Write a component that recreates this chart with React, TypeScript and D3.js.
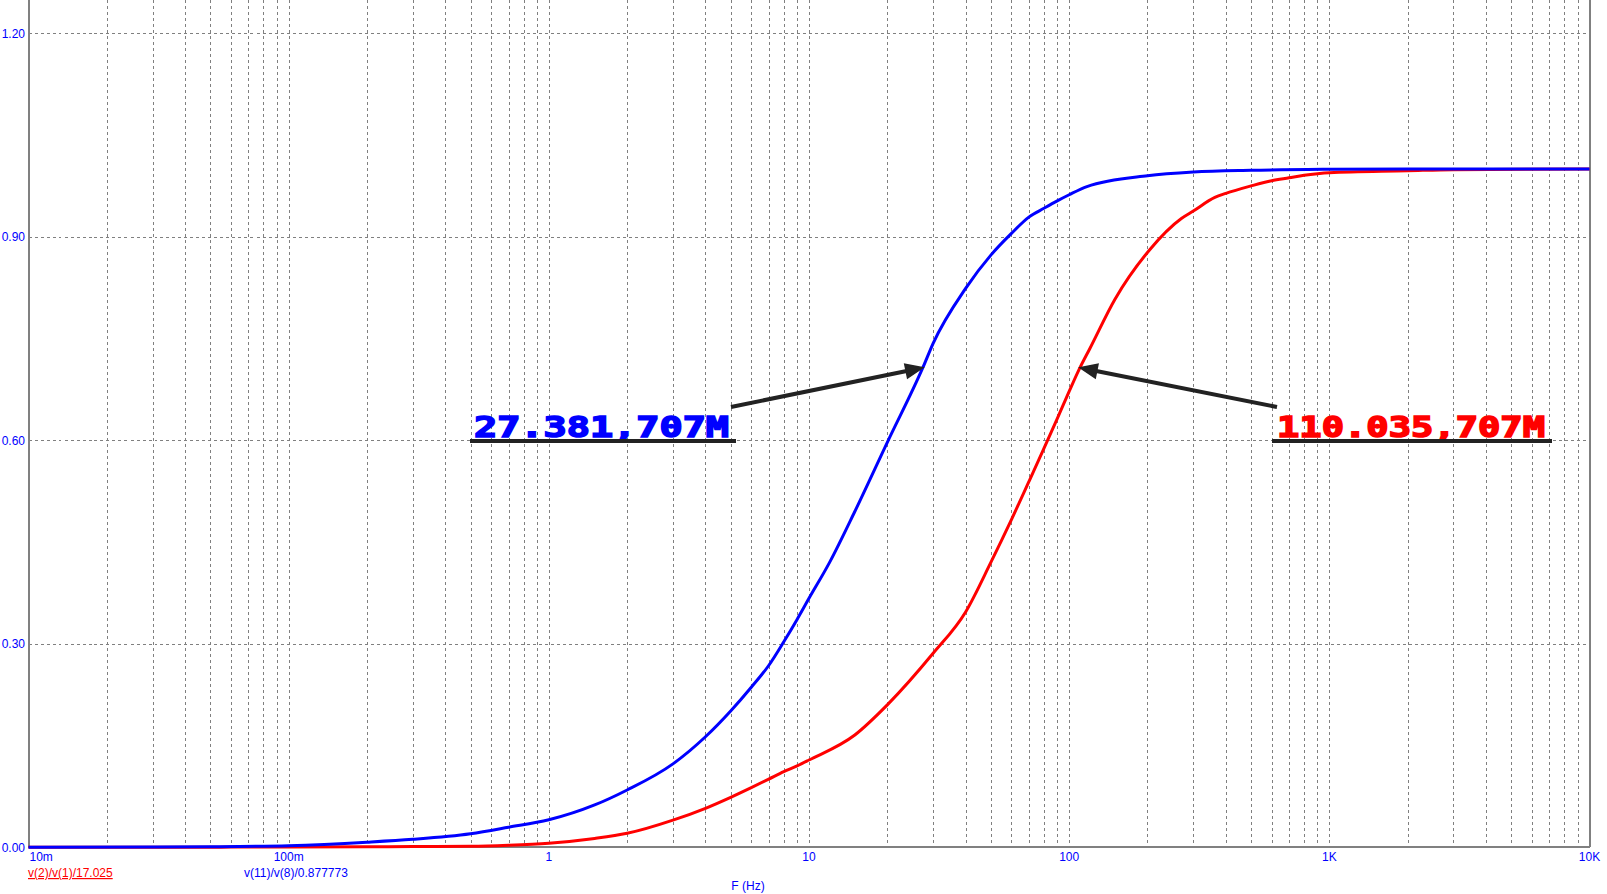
import React from "react";
import * as d3 from "d3";

// ---- data ----
const blueFreq = [0.01, 0.03, 0.05, 0.1, 0.2, 0.3, 0.5, 0.7, 1, 1.5, 2, 3, 4, 5, 6, 7, 8, 9, 10, 12, 15, 20, 27.381, 30, 40, 50, 60, 70, 80, 90, 100, 117, 200, 300, 500, 1000, 2000, 10000];
const blueVal = [0.0, 0.0003, 0.0007, 0.0024, 0.0076, 0.0118, 0.02, 0.0295, 0.0405, 0.0624, 0.0845, 0.123, 0.163, 0.201, 0.236, 0.268, 0.303, 0.336, 0.367, 0.42, 0.495, 0.597, 0.707, 0.743, 0.824, 0.873, 0.905, 0.929, 0.942, 0.953, 0.962, 0.974, 0.99, 0.9954, 0.998, 0.9995, 1.0, 1.0];

const redFreq = [0.01, 0.05, 0.06, 0.1, 0.2, 0.3, 0.5, 0.7, 1, 1.5, 2, 3, 4, 5, 6, 7, 8, 9, 10, 15, 20, 30, 40, 50, 60, 70, 80, 90, 100, 110.035, 120, 150, 204, 270, 300, 363, 400, 500, 600, 700, 800, 900, 1000, 2000, 3000, 10000];
const redVal = [0, 0, 0.0003, 0.0004, 0.0008, 0.0012, 0.0015, 0.003, 0.006, 0.013, 0.0206, 0.04, 0.0575, 0.0737, 0.088, 0.1005, 0.1115, 0.12, 0.1287, 0.1656, 0.21, 0.286, 0.347, 0.42, 0.483, 0.539, 0.588, 0.632, 0.672, 0.707, 0.735, 0.808, 0.881, 0.927, 0.938, 0.958, 0.964, 0.975, 0.9827, 0.987, 0.9907, 0.993, 0.9944, 0.9973, 0.999, 1.0];

const xTickValues = [0.01, 0.1, 1, 10, 100, 1000, 10000];
const xTickLabels = ["10m", "100m", "1", "10", "100", "1K", "10K"];
const yTickValues = [0, 0.3, 0.6, 0.9, 1.2];
const yTickLabels = ["0.00", "0.30", "0.60", "0.90", "1.20"];

const seriesNames = ["v(2)/v(1)/17.025", "v(11)/v(8)/0.877773"];
const cursorFreq = [27.381, 110.035];
const cursorLevel = 0.707;
const cursorLabels = ["27.381,707M", "110.035,707M"];
const xAxisTitle = "F (Hz)";

const W = 1607;
const H = 894;
const LEFT = 28.5;
const RIGHT = 1589.5;
const TOP = 0;
const BOTTOM = 847.3;

const BLUE = "#0000ff";
const RED = "#ff0000";
const GRID = "#808080";
const FONT = "'Liberation Sans', Arial, sans-serif";

function Arrow({ x1, y1, x2, y2 }: { x1: number; y1: number; x2: number; y2: number }) {
  const ang = Math.atan2(y2 - y1, x2 - x1);
  const len = 17;
  const half = 7;
  const bx = x2 - Math.cos(ang) * len;
  const by = y2 - Math.sin(ang) * len;
  const px = -Math.sin(ang) * half;
  const py = Math.cos(ang) * half;
  return (
    <g>
      <line x1={x1} y1={y1} x2={bx + Math.cos(ang) * 3} y2={by + Math.sin(ang) * 3} stroke="#222" strokeWidth={4} />
      <polygon points={`${x2},${y2} ${bx + px},${by + py} ${bx - px},${by - py}`} fill="#222" stroke="#222" strokeWidth={1.5} strokeLinejoin="miter" />
    </g>
  );
}

export default function App() {
  const x = d3.scaleLog().domain([0.01, 10000]).range([LEFT, RIGHT]);
  const y = d3.scaleLinear().domain([0, 1.2]).range([BOTTOM, 33.3]);

  const line = d3
    .line<[number, number]>()
    .x((d) => x(d[0]))
    .y((d) => y(d[1]))
    .curve(d3.curveMonotoneX);

  const blueData: [number, number][] = blueFreq.map((f, i) => [f, blueVal[i]]);
  const redData: [number, number][] = redFreq.map((f, i) => [f, redVal[i]]);

  const vGrid: number[] = [];
  for (let e = -2; e <= 3; e++) {
    for (let m = 1; m <= 9; m++) {
      const f = m * Math.pow(10, e);
      if (f > 0.01 && f < 10000) vGrid.push(f);
    }
  }
  const snap = (v: number) => Math.round(v) + 0.5;

  // annotation placements
  const labelBaseline = 437;
  const annos = [
    { color: BLUE, tx: 474, tw: 255, ux1: 470, ux2: 736, ax: 731, ay: 407 },
    { color: RED, tx: 1277, tw: 268, ux1: 1272, ux2: 1552, ax: 1277, ay: 407 },
  ];

  return (
    <div style={{ position: "absolute", left: 0, top: 0 }}>
      <svg width={W} height={H} viewBox={`0 0 ${W} ${H}`} style={{ display: "block", background: "#fff" }}>
        <rect x={0} y={0} width={W} height={H} fill="#fff" />
        {/* grid */}
        <g shapeRendering="crispEdges" stroke={GRID} strokeWidth={1} strokeDasharray="3,3">
          {vGrid.map((f, i) => (
            <line key={"v" + i} x1={snap(x(f))} x2={snap(x(f))} y1={TOP} y2={BOTTOM} />
          ))}
          {yTickValues.filter((v) => v > 0).map((v, i) => (
            <line key={"h" + i} x1={LEFT} x2={RIGHT} y1={snap(y(v))} y2={snap(y(v))} />
          ))}
        </g>
        {/* axes frame */}
        <g shapeRendering="crispEdges" stroke={GRID} strokeWidth={1.5} fill="none">
          <line x1={snap(LEFT) - 0.5} x2={snap(LEFT) - 0.5} y1={TOP} y2={BOTTOM} />
          <line x1={snap(RIGHT) - 0.5} x2={snap(RIGHT) - 0.5} y1={TOP} y2={BOTTOM} />
          <line x1={LEFT - 1} x2={RIGHT} y1={Math.round(BOTTOM)} y2={Math.round(BOTTOM)} />
        </g>
        {/* curves */}
        <path d={line(redData) || ""} fill="none" stroke={RED} strokeWidth={3} />
        <path d={line(blueData) || ""} fill="none" stroke={BLUE} strokeWidth={3} />

        {/* tick labels */}
        <g fontFamily={FONT} fontSize={12} fill={BLUE}>
          {yTickValues.map((v, i) => (
            <text key={"yt" + i} x={25} y={y(v) + 4.5} textAnchor="end">
              {yTickLabels[i]}
            </text>
          ))}
          {xTickValues.map((v, i) => (
            <text
              key={"xt" + i}
              x={i === 0 ? x(v) + 1 : x(v)}
              y={861}
              textAnchor={i === 0 ? "start" : "middle"}
            >
              {xTickLabels[i]}
            </text>
          ))}
          <text x={748} y={890} textAnchor="middle">
            {xAxisTitle}
          </text>
        </g>
        {/* legend */}
        <g fontFamily={FONT} fontSize={12}>
          <text x={28} y={877} fill={RED} style={{ textDecoration: "underline" }}>
            {seriesNames[0]}
          </text>
          <text x={244} y={877} fill={BLUE}>
            {seriesNames[1]}
          </text>
        </g>
        {/* cursor annotations */}
        {annos.map((a, i) => (
          <g key={"an" + i}>
            <text
              x={a.tx}
              y={labelBaseline}
              fill={a.color}
              stroke={a.color}
              strokeWidth={1.6}
              fontFamily="'DejaVu Sans Mono', monospace"
              fontWeight="bold"
              fontSize={29}
              textLength={a.tw}
              lengthAdjust="spacingAndGlyphs"
            >
              {cursorLabels[i]}
            </text>
            <line x1={a.ux1} x2={a.ux2} y1={441} y2={441} stroke="#222" strokeWidth={4} />
            <Arrow x1={a.ax} y1={a.ay} x2={x(cursorFreq[i])} y2={y(cursorLevel)} />
          </g>
        ))}
      </svg>
    </div>
  );
}
